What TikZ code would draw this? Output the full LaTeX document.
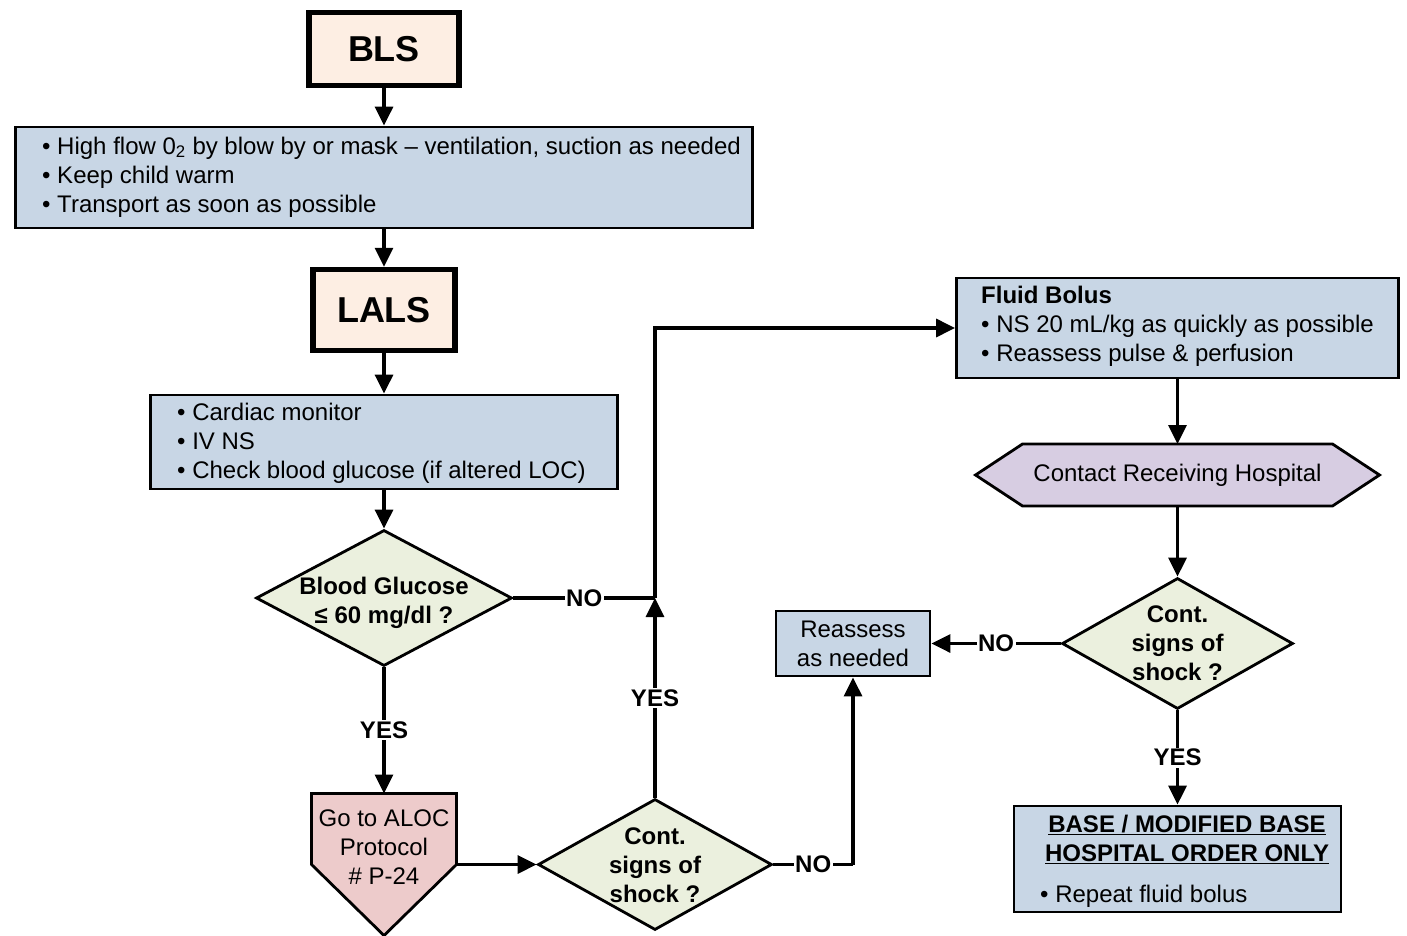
\documentclass[tikz,border=0pt]{standalone}
\usepackage{fontspec}
\setmainfont{Liberation Sans}
\usetikzlibrary{shapes.geometric,arrows.meta,calc}
\definecolor{peach}{RGB}{253,238,227}
\definecolor{boxblue}{RGB}{200,214,229}
\definecolor{decgreen}{RGB}{235,240,222}
\definecolor{pentred}{RGB}{237,203,203}
\definecolor{hexlav}{RGB}{215,205,226}
\begin{document}
\begin{tikzpicture}[x=1pt,y=-1pt]
\tikzset{
 txt/.style={font=\fontsize{24}{29}\selectfont, inner sep=0pt},
 btxt/.style={font=\fontsize{24}{29}\selectfont\bfseries, inner sep=0pt},
 bluebox/.style={draw, line width=2.8pt, fill=boxblue, inner sep=0pt},
 titlebox/.style={draw, line width=5.5pt, fill=peach, inner sep=0pt, font=\fontsize{36}{40}\selectfont\bfseries},
 decision/.style={diamond, draw, line width=2.8pt, fill=decgreen, inner sep=0pt},
 shapeholder/.style={inner sep=0pt, outer sep=0pt},
 conn/.style={line width=3.2pt},
 arr/.style={conn, -{Triangle[length=19pt,width=18pt]}},
 lbl/.style={btxt, fill=white, inner sep=1.5pt},
}
\useasboundingbox (0,0) rectangle (1407,936);

% nodes
\node[titlebox, minimum width=150pt, minimum height=73pt] (bls) at (384,49) {BLS};
\node[bluebox, minimum width=737pt, minimum height=101pt] (b1) at (384,177.5) {};
\node[txt, anchor=west, align=left] (b1t) at (42,177) {\textbullet\ High flow 0\textsubscript{2} by blow by or mask -- ventilation, suction as needed\\ \textbullet\ Keep child warm\\ \textbullet\ Transport as soon as possible};
\node[titlebox, minimum width=142pt, minimum height=81pt] (lals) at (384,310) {LALS};
\node[bluebox, minimum width=467pt, minimum height=94pt] (b2) at (384,442) {};
\node[txt, anchor=west, align=left] (b2t) at (177,443) {\textbullet\ Cardiac monitor\\ \textbullet\ IV NS\\ \textbullet\ Check blood glucose (if altered LOC)};

\node[decision, minimum width=256pt, minimum height=136pt] (d1) at (384,598) {};
\node[btxt, align=center] (d1t) at (384,603) {Blood Glucose\\ ≤ 60 mg/dl ?};

\node[shapeholder, minimum width=145pt, minimum height=142pt] (pent) at (384,864.5) {};
\filldraw[fill=pentred, line width=2.8pt, line join=miter] (pent.north west) -- (pent.north east) -- (pent.east) -- (pent.south) -- (pent.west) -- cycle;
\node[txt, align=center] (pentt) at (384,847) {Go to ALOC\\ Protocol\\ \# P-24};

\node[decision, minimum width=234pt, minimum height=131pt] (d2) at (655,864.5) {};
\node[btxt, align=center] (d2t) at (655,865) {Cont.\\ signs of\\ shock ?};

\node[bluebox, minimum width=154pt, minimum height=65pt] (re) at (853,643.5) {};
\node[txt, align=center] (ret) at (853,644) {Reassess\\ as needed};

\node[bluebox, minimum width=442pt, minimum height=100pt] (fb) at (1177.5,328) {};
\node[txt, anchor=west, align=left] (fbt) at (981,326) {\textbf{Fluid Bolus}\\ \textbullet\ NS 20 mL/kg as quickly as possible\\ \textbullet\ Reassess pulse \& perfusion};

\node[shapeholder, minimum width=404pt, minimum height=62pt] (hex) at (1177.5,475) {};
\filldraw[fill=hexlav, line width=2.8pt, line join=miter] (hex.west) -- ($(hex.north west)+(47,0)$) -- ($(hex.north east)+(-47,0)$) -- (hex.east) -- ($(hex.south east)+(-47,0)$) -- ($(hex.south west)+(47,0)$) -- cycle;
\node[txt] (hext) at (1177.5,475) {Contact Receiving Hospital};

\node[decision, minimum width=231pt, minimum height=131pt] (d3) at (1177.5,643.5) {};
\node[btxt, align=center] (d3t) at (1177.5,643.5) {Cont.\\ signs of\\ shock ?};

\node[bluebox, minimum width=327pt, minimum height=106pt] (base) at (1177.5,859) {};
\node[btxt, align=center] (baseh) at (1187,839.5) {\underline{BASE / MODIFIED BASE}\\ \underline{HOSPITAL ORDER ONLY}};
\node[txt, anchor=west] (baseb) at (1040,896) {\textbullet\ Repeat fluid bolus};

\coordinate (j1) at (655,598);
\coordinate (j2) at (853,864.5);

% connectors
\draw[arr] (bls) -- (b1);
\draw[arr] (b1) -- (lals);
\draw[arr] (lals) -- (b2);
\draw[arr] (b2) -- (d1);
\draw[conn] (d1.east) -- node[lbl] (no1) {NO} (j1);
\draw[arr] (j1) -- (j1 |- fb.west) -- (fb.west);
\draw[arr] (d1.south) -- node[lbl] (yes1) {YES} (pent.north);
\draw[arr] (pent.east) -- (d2.west);
\draw[arr] (d2.north) -- node[lbl] (yes2) {YES} (j1);
\draw[conn] (d2.east) -- node[lbl] (no2) {NO} (j2);
\draw[arr] (j2) -- (re.south);
\draw[arr] (fb.south) -- (hex.north);
\draw[arr] (hex.south) -- (d3.north);
\draw[arr] (d3.west) -- node[lbl] (no3) {NO} (re.east);
\draw[arr] (d3.south) -- node[lbl] (yes3) {YES} (base.north);
\end{tikzpicture}
\end{document}
